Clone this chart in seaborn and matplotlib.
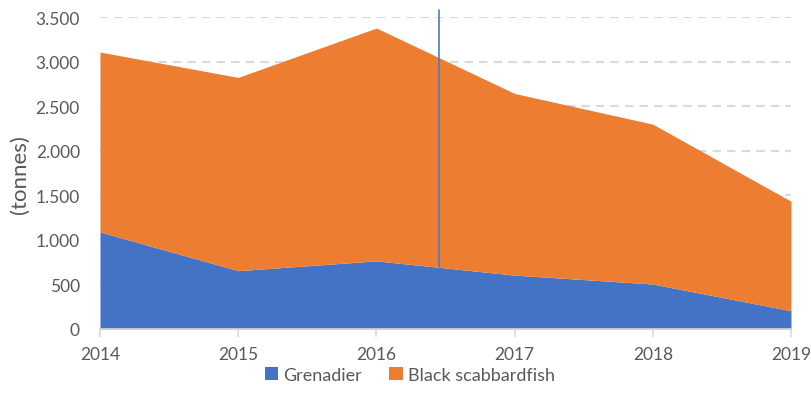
import matplotlib
matplotlib.use("Agg")
import matplotlib.pyplot as plt
import matplotlib.ticker as mticker
from matplotlib.patches import Patch
import numpy as np
import seaborn as sns

years = [2014, 2015, 2016, 2017, 2018, 2019]
grenadier = [1090, 655, 765, 605, 505, 205]
black_scabbardfish = [2020, 2170, 2615, 2040, 1795, 1230]
series_names = ["Grenadier", "Black scabbardfish"]
colors = ["#4472C4", "#ED7D31"]
marker_x = 2016.45
marker_top = 3580

sns.set_style("white")
plt.rcParams['font.family'] = ['Lato', 'DejaVu Sans']

fig = plt.figure(figsize=(8.12, 4.10), dpi=100)
ax = fig.add_axes([100/812, 1-330/410, (791-100)/812, (330-18.3)/410])

ax.stackplot(years, grenadier, black_scabbardfish, colors=colors, linewidth=0, zorder=2)

# vertical marker line
g_at = np.interp(marker_x, years, grenadier)
ax.plot([marker_x, marker_x], [g_at, marker_top], color="#5079C6", lw=1.2, zorder=3, clip_on=False)

ax.set_xlim(2014, 2019)
ax.set_ylim(0, 3500)
ax.set_xticks(years)
ax.set_xticklabels([str(y) for y in years])
ax.set_yticks(range(0, 3501, 500))
ax.yaxis.set_major_formatter(mticker.FuncFormatter(lambda v, p: f"{int(v):,}".replace(",", ".")))

for v in range(500, 3501, 500):
    ax.axhline(v, color="#D9D9D9", lw=1.5, ls=(0, (4, 3)), zorder=1)

for s in ["top", "right", "left"]:
    ax.spines[s].set_visible(False)
ax.spines["bottom"].set_color("#D9D9D9")
ax.spines["bottom"].set_linewidth(1.2)
ax.spines["bottom"].set_zorder(4)

ax.tick_params(axis="x", which="major", bottom=True, length=6, width=1.2, color="#D9D9D9",
               labelsize=12.5, labelcolor="#595959", pad=6)
ax.tick_params(axis="y", left=False, labelsize=12.5, labelcolor="#595959", pad=11)

ax.set_ylabel("(tonnes)", fontsize=16, color="#595959", labelpad=4)

handles = [Patch(facecolor=c, edgecolor="none") for c in colors]
fig.legend(handles, series_names, loc="center", bbox_to_anchor=(410/812, 1-376/410), ncol=2,
           frameon=False, fontsize=13, labelcolor="#595959", handlelength=0.75, handleheight=0.75,
           handletextpad=0.3, columnspacing=1.5)

fig.savefig("out.png", dpi=100)
